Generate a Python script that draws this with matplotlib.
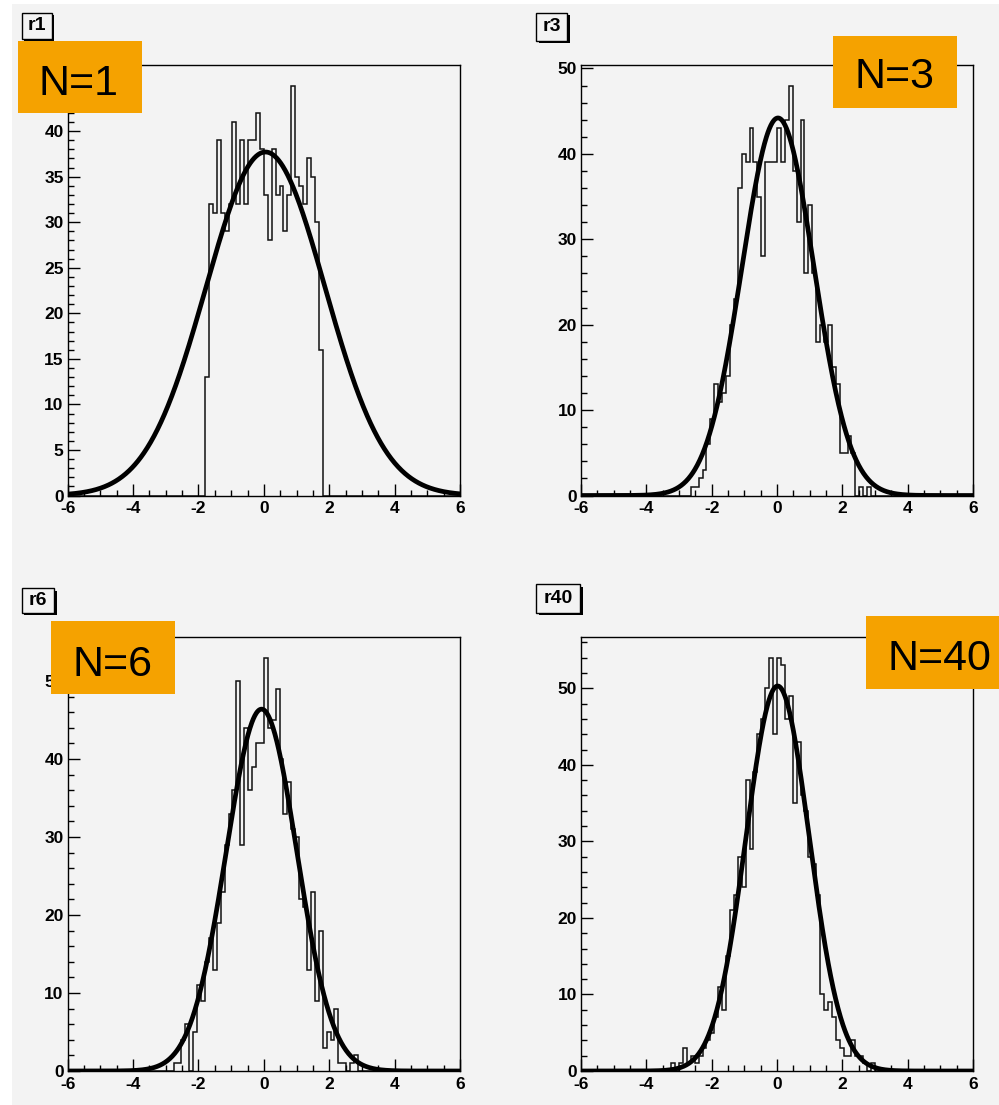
import numpy as np
import matplotlib
matplotlib.use("Agg")
import matplotlib.pyplot as plt
from matplotlib.patches import Rectangle
from matplotlib.ticker import MultipleLocator, FuncFormatter

plt.rcParams['font.family'] = ['Liberation Sans', 'DejaVu Sans']
plt.rcParams['axes.unicode_minus'] = False

W, H = 999, 1105
BG = '#f3f3f3'
ORANGE = '#f5a200'

# 100 bins from -6 to 6, counts (first non-empty bin index + counts)
edges = np.linspace(-6, 6, 101)

r1_start = 35
r1_counts = [13, 32, 31, 39, 31, 29, 32, 41, 32, 39, 32, 39, 39, 42, 38,
             33, 28, 38, 33, 34, 29, 33, 45, 35, 34, 32, 37, 35, 30, 16]

r3_start = 28
r3_counts = [1, 1, 2, 3, 6, 9, 13, 11, 12, 14, 20, 23, 36, 40, 39, 43, 39, 35,
             28, 39, 39, 39, 43, 39, 44, 48, 38, 32, 44, 26, 34, 26, 18, 20,
             18, 20, 15, 13, 5, 5, 7, 5, 0, 1, 0, 1]

r6_start = 27
r6_counts = [1, 1, 4, 6, 0, 5, 11, 9, 14, 17, 13, 19, 23, 29, 33, 36, 50, 29,
             44, 36, 39, 42, 42, 53, 44, 45, 49, 40, 33, 37, 31, 30, 22, 21,
             13, 23, 9, 18, 3, 5, 4, 8, 1, 1, 0, 1, 2]

r40_start = 23
r40_counts = [1, 0, 1, 3, 1, 2, 1, 2, 3, 4, 5, 7, 11, 8, 15, 21, 23, 28, 24,
              38, 29, 39, 44, 46, 50, 54, 44, 54, 53, 46, 49, 35, 43, 36, 34,
              28, 27, 23, 10, 8, 9, 7, 4, 3, 2, 2, 4, 2, 2, 1, 0, 1]

# gaussian fit parameters (amplitude, mean, sigma)
r1_fit = (37.7, 0.05, 1.82)
r3_fit = (44.2, 0.03, 1.10)
r6_fit = (46.4, -0.07, 1.08)
r40_fit = (50.3, 0.02, 0.97)

names = ['r1', 'r3', 'r6', 'r40']
tags = ['N=1', 'N=3', 'N=6', 'N=40']


def fig_rect(x, y, w, h, **kw):
    # rectangle given in pixels, origin top-left
    r = Rectangle((x / W, 1 - (y + h) / H), w / W, h / H,
                  transform=fig.transFigure, **kw)
    fig.add_artist(r)


def draw_panel(name, start, counts, fit, frame, ystep, tbox, tag, tagbox, tagxy,
               hide=()):
    vals = np.zeros(100)
    vals[start:start + len(counts)] = counts
    l, r, t, b = frame
    ax = fig.add_axes([l / W, 1 - b / H, (r - l) / W, (b - t) / H])
    ax.set_facecolor(BG)
    ax.stairs(vals, edges, color='#111111', lw=1.1, baseline=0)
    xs = np.linspace(-6, 6, 800)
    amp, mu, sig = fit
    ax.plot(xs, amp * np.exp(-0.5 * ((xs - mu) / sig) ** 2), color='black',
            lw=3.4, solid_capstyle='round')
    ax.set_xlim(-6, 6)
    ax.set_ylim(0, 1.05 * max(counts))
    ax.xaxis.set_major_locator(MultipleLocator(2))
    ax.xaxis.set_minor_locator(MultipleLocator(0.5))
    ax.yaxis.set_major_locator(MultipleLocator(ystep))
    ax.yaxis.set_minor_locator(MultipleLocator(ystep / 5))
    # labels covered by the orange box in the original are left out
    ax.yaxis.set_major_formatter(FuncFormatter(
        lambda v, p: '' if round(v) in hide else '%d' % round(v)))
    ax.tick_params(which='both', direction='in', top=False, right=False,
                   labelsize=12.5, width=1)
    ax.tick_params(which='major', length=8.5)
    ax.tick_params(which='minor', length=4.3)
    ax.tick_params(axis='y', pad=3)
    ax.tick_params(axis='x', pad=4)
    for lab in ax.get_xticklabels() + ax.get_yticklabels():
        lab.set_fontweight('bold')
    for s in ax.spines.values():
        s.set_linewidth(1.0)

    # title box with shadow
    x, y, w, h = tbox
    fig_rect(x + 2.5, y + 2.5, w, h, facecolor='black', edgecolor='none', zorder=4)
    fig_rect(x, y, w, h, facecolor=BG, edgecolor='black', lw=1.0, zorder=4)
    fig.text((x + w / 2) / W, 1 - (y + h / 2) / H, name, ha='center', va='center',
             fontsize=14, fontweight='bold', zorder=5)

    # orange label
    x, y, w, h = tagbox
    fig_rect(x, y, w, h, facecolor=ORANGE, edgecolor='none', zorder=6)
    fig.text(tagxy[0] / W, 1 - tagxy[1] / H, tag, ha='center', va='baseline',
             fontsize=31, zorder=7)


fig = plt.figure(figsize=(W / 100, H / 100), dpi=100, facecolor='white')
fig_rect(12, 4, W - 12, H - 4, facecolor=BG, edgecolor='none', zorder=-1)

draw_panel(names[0], r1_start, r1_counts, r1_fit, (67.7, 460, 65, 495.5), 5,
           (21.7, 12.7, 30, 26.6), tags[0], (17.7, 40.7, 124, 72.6), (78, 95),
           hide=(45,))
draw_panel(names[1], r3_start, r3_counts, r3_fit, (581, 973, 65, 495.5), 10,
           (536, 12.7, 31.3, 28), tags[1], (833.3, 35.7, 123.4, 72), (894, 88.5))
draw_panel(names[2], r6_start, r6_counts, r6_fit, (67.7, 460, 637, 1071), 10,
           (21.7, 588.3, 32.3, 24.4), tags[2], (51, 620.7, 124, 73.3), (112.5, 676.5))
draw_panel(names[3], r40_start, r40_counts, r40_fit, (581, 973, 637, 1071), 10,
           (536, 584, 44, 28.7), tags[3], (866, 616, 133, 73), (939, 670))

plt.savefig('out.png', dpi=100)
